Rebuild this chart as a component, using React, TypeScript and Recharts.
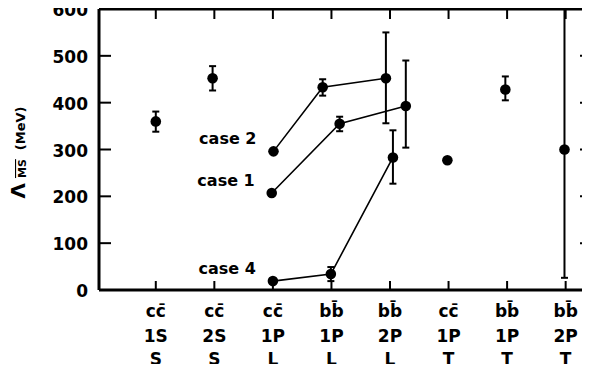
import React from "react";
import { ScatterChart, Scatter, XAxis, YAxis, ZAxis, ErrorBar, LabelList } from "recharts";

//========== Axis labels ==========
const flavours = ["cc\u0304", "cc\u0304", "cc\u0304", "bb\u0304", "bb\u0304", "cc\u0304", "bb\u0304", "bb\u0304"];
const levels = ["1S", "2S", "1P", "1P", "2P", "1P", "1P", "2P"];
const kinds = ["S", "S", "L", "L", "L", "T", "T", "T"];
const categoryTicks = [1, 2, 3, 4, 5, 6, 7, 8];
const lambdaTicks = [0, 100, 200, 300, 400, 500, 600];

//========== Single points ==========
const singleX = [1.0, 1.97, 5.98, 6.97, 7.98];
const singleY = [360, 452, 277, 428, 300];
const singleErrLo = [22, 26, 0, 23, 274];
const singleErrHi = [21, 26, 0, 28, 300];

//========== Connected cases ==========
const case2X = [3.01, 3.85, 4.93];
const case2Y = [296, 433, 452];
const case2ErrLo = [0, 18, 96];
const case2ErrHi = [0, 17, 98];

const case1X = [2.98, 4.14, 5.27];
const case1Y = [207, 355, 393];
const case1ErrLo = [0, 16, 89];
const case1ErrHi = [0, 15, 97];

const case4X = [3.0, 3.99, 5.05];
const case4Y = [19, 34, 283];
const case4ErrLo = [0, 15, 56];
const case4ErrHi = [0, 15, 58];

const caseNames = ["case 2", "case 1", "case 4"];

const INK = "#000";
const FONT = "DejaVu Sans";
const X_DOMAIN: [number, number] = [0.03, 8.45];

const toPoints = (xs: number[], ys: number[], lo: number[], hi: number[], note = "") =>
  xs.map((x, i) => ({ x, y: ys[i], err: [lo[i], hi[i]], note: i === 0 ? note : "" }));

const singles = toPoints(singleX, singleY, singleErrLo, singleErrHi);
const cases = [
  toPoints(case2X, case2Y, case2ErrLo, case2ErrHi, caseNames[0]),
  toPoints(case1X, case1Y, case1ErrLo, case1ErrHi, caseNames[1]),
  toPoints(case4X, case4Y, case4ErrLo, case4ErrHi, caseNames[2]),
];

//========== Ticks (drawn inward by hand) ==========
const BottomTick = (props: any) => {
  const { x, y, payload } = props;
  const i = Math.round(payload.value) - 1;
  const t = { textAnchor: "middle", fontFamily: FONT, fontWeight: "bold", fontSize: 17, fill: INK } as any;
  return (
    <g>
      <path d={`M${x},${y}L${x},${y - 9}`} stroke={INK} strokeWidth={2} />
      <text x={x} y={y + 27} {...t}>{flavours[i]}</text>
      <text x={x} y={y + 52} {...t}>{levels[i]}</text>
      <text x={x} y={y + 75} {...t}>{kinds[i]}</text>
    </g>
  );
};

const TopTick = (props: any) => (
  <path d={`M${props.x},${props.y}L${props.x},${props.y + 10}`} stroke={INK} strokeWidth={2} />
);

const LeftTick = (props: any) => {
  const { x, y, payload } = props;
  const lx = 25;
  const ly = y + 3;
  return (
    <g>
      <path d={`M${x},${y}L${x + 12},${y}`} stroke={INK} strokeWidth={2} />
      <text x={x - 11} y={y + 7} textAnchor="end" fontFamily={FONT} fontWeight="bold" fontSize={17} fill={INK}>
        {payload.value}
      </text>
      {payload.value === 300 && (
        <text x={lx} y={ly} transform={`rotate(-90 ${lx} ${ly})`} textAnchor="middle"
          fontFamily={FONT} fontWeight="bold" fill={INK}>
          <tspan fontSize={20}>Λ</tspan>
          <tspan fontSize={11} dx={5} dy={1} textDecoration="overline">MS</tspan>
          <tspan fontSize={13} dx={9} dy={-1}>(MeV)</tspan>
        </text>
      )}
    </g>
  );
};

const RightTick = (props: any) => (
  <path d={`M${props.x - 12},${props.y}L${props.x},${props.y}`} stroke={INK} strokeWidth={2} />
);

//========== Case name left of a line's first point ==========
const CaseName = (p: any) => {
  if (!p.value) return null;
  const cx = p.x + (p.width ?? 0) / 2;
  const cy = p.y + (p.height ?? 0) / 2;
  return (
    <text x={cx - 17} y={cy - 7} textAnchor="end" fontFamily={FONT} fontWeight="bold" fontSize={16} fill={INK}>
      {p.value}
    </text>
  );
};

const App: React.FC = () => {
  return (
    <div style={{ margin: -8, width: 590, height: 372, overflow: "hidden", background: "#fff" }}>
      <ScatterChart width={600} height={372} margin={{ top: -21, right: -32, bottom: 0, left: 0 }}>
        <XAxis xAxisId="b" type="number" dataKey="x" domain={X_DOMAIN} ticks={categoryTicks} height={82}
          axisLine={{ stroke: INK, strokeWidth: 3 }} tickLine={false} tickSize={0} tickMargin={0} tick={<BottomTick />} />
        <XAxis xAxisId="t" orientation="top" type="number" dataKey="x" domain={X_DOMAIN} ticks={categoryTicks} height={30}
          axisLine={{ stroke: INK, strokeWidth: 3 }} tickLine={false} tickSize={0} tickMargin={0} tick={<TopTick />} />
        <YAxis yAxisId="l" type="number" dataKey="y" domain={[0, 600]} ticks={lambdaTicks} width={99}
          axisLine={{ stroke: INK, strokeWidth: 3 }} tickLine={false} tickSize={0} tickMargin={0} tick={<LeftTick />} />
        <YAxis yAxisId="r" orientation="right" type="number" dataKey="y" domain={[0, 600]} ticks={lambdaTicks} width={40}
          axisLine={{ stroke: INK, strokeWidth: 3 }} tickLine={false} tickSize={0} tickMargin={0} tick={<RightTick />} />
        <ZAxis range={[88, 88]} />

        {/* binds the top / right frame axes */}
        <Scatter data={singles} xAxisId="t" yAxisId="r" dataKey="y" fill="none" isAnimationActive={false} />

        <Scatter data={singles} xAxisId="b" yAxisId="l" dataKey="y" fill={INK} isAnimationActive={false}>
          <ErrorBar dataKey="err" direction="y" width={3.5} stroke={INK} strokeWidth={2} />
        </Scatter>
        {cases.map((pts, k) => (
          <Scatter
            key={caseNames[k]}
            data={pts}
            xAxisId="b"
            yAxisId="l"
            dataKey="y"
            fill={INK}
            line={{ stroke: INK, strokeWidth: 1.6 }}
            lineType="joint"
            isAnimationActive={false}
          >
            <ErrorBar dataKey="err" direction="y" width={3.5} stroke={INK} strokeWidth={2} />
            <LabelList dataKey="note" content={<CaseName />} />
          </Scatter>
        ))}
      </ScatterChart>
    </div>
  );
};

export default App;
